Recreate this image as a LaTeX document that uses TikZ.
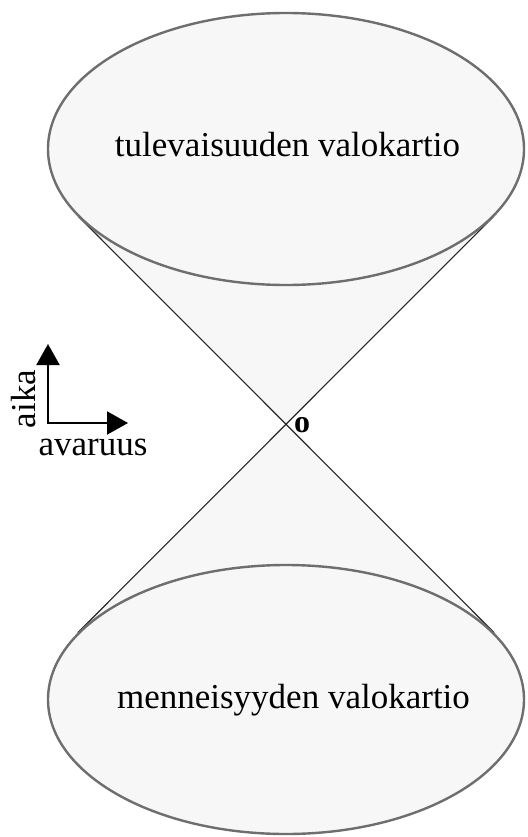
\documentclass[tikz,border=0pt]{standalone}
\usepackage{fontspec}
\setmainfont{Liberation Serif}
\usetikzlibrary{shapes.geometric,arrows.meta}
\definecolor{conefill}{HTML}{F7F7F7}
\definecolor{rimgray}{HTML}{6E6E6E}
\begin{document}
\begin{tikzpicture}[x=1pt,y=-1pt,
  cone/.style={ellipse, draw=rimgray, line width=2.4pt, fill=conefill, minimum width=476pt, inner sep=0pt},
  coneedge/.style={draw=black!85, line width=1.1pt},
  lab/.style={font=\fontsize{35}{42}\selectfont, anchor=base, inner sep=0pt},
  axisarrow/.style={line width=2pt, line cap=rect, -{Triangle[width=23pt,length=21pt]}}]
\useasboundingbox (0,0) rectangle (527,837);
% cone geometry
\coordinate (apex) at (286,424);
\coordinate (t1) at (78.3,216.3);
\coordinate (t2) at (493.7,216.3);
\coordinate (b1) at (77.8,632.7);
\coordinate (b2) at (494.2,632.7);
\fill[conefill] (apex) -- (t1) -- (t2) -- cycle;
\fill[conefill] (apex) -- (b1) -- (b2) -- cycle;
\draw[coneedge] (t1) -- (b2);
\draw[coneedge] (t2) -- (b1);
\node[cone, minimum height=272pt] (future) at (286,149) {};
\node[cone, minimum height=269pt] (past) at (286,699.5) {};
\node[lab] (futtext) at (287.5,157) {tulevaisuuden valokartio};
\node[lab] (pasttext) at (293.5,708) {menneisyyden valokartio};
% apex label
\node[font=\fontsize{32}{34}\selectfont\bfseries, inner sep=0pt] (o) at (302,425) {o};
% axes
\coordinate (origin) at (48,423);
\coordinate (tup) at (48,344);
\coordinate (tright) at (128,423);
\draw[axisarrow] (origin) -- (tup);
\draw[axisarrow] (origin) -- (tright);
\node[lab, rotate=90] (aika) at (35,399) {aika};
\node[lab] (avaruus) at (93,455) {avaruus};
\end{tikzpicture}
\end{document}
